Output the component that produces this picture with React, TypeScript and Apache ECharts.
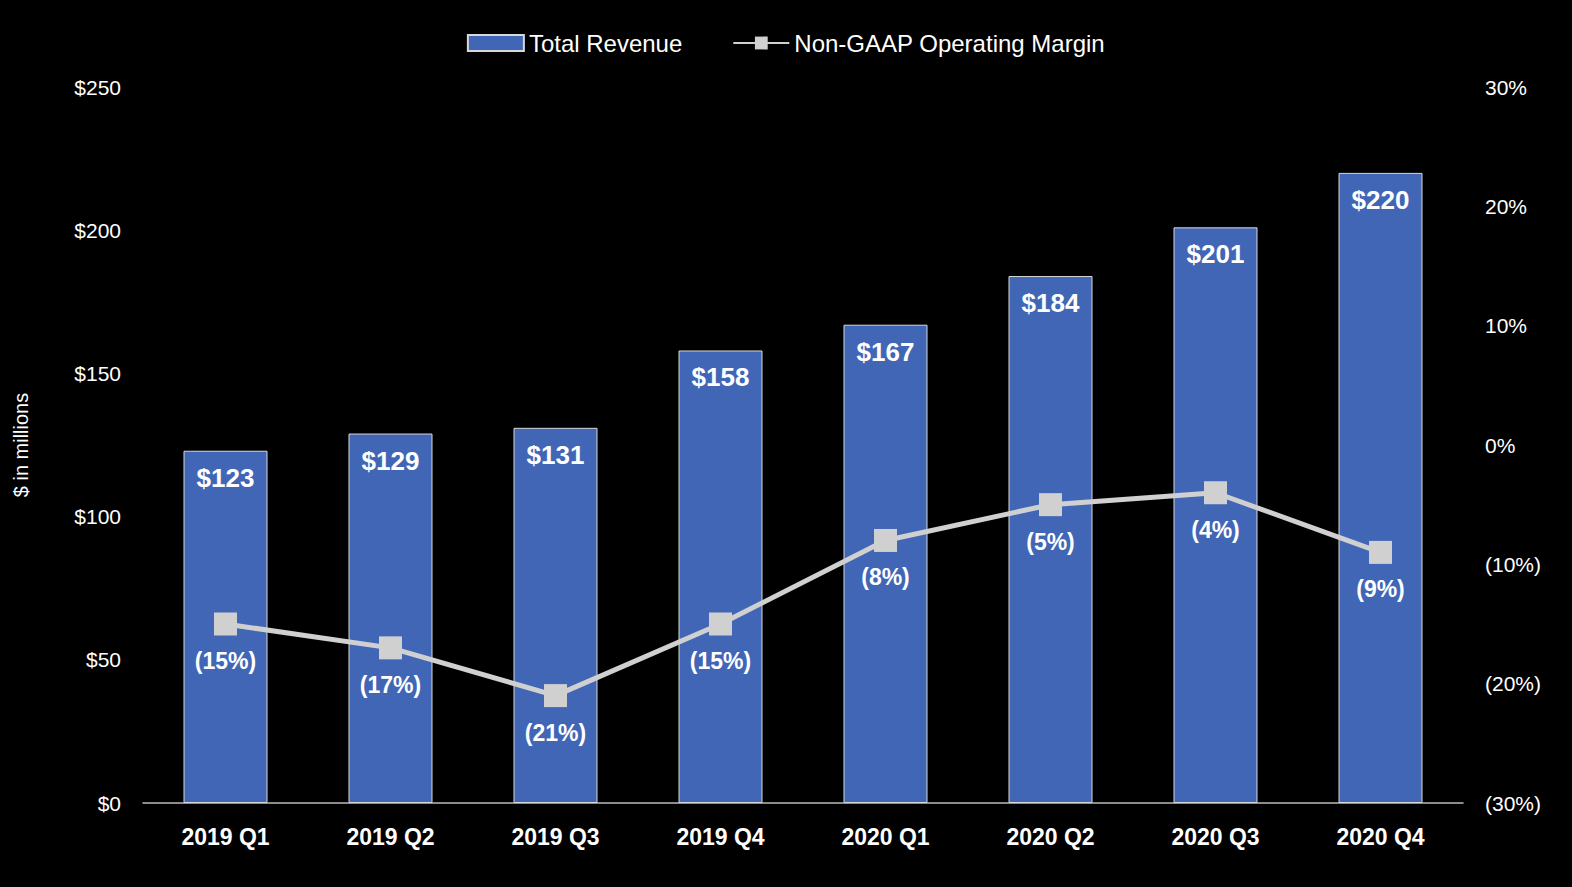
import React, { useEffect, useRef } from "react";
import * as echarts from "echarts";

const categories = ["2019 Q1", "2019 Q2", "2019 Q3", "2019 Q4", "2020 Q1", "2020 Q2", "2020 Q3", "2020 Q4"];
const revenue = [123, 129, 131, 158, 167, 184, 201, 220];
const margin = [-15, -17, -21, -15, -8, -5, -4, -9];

const pct = (v: number) => (v < 0 ? `(${-v}%)` : `${v}%`);

export default function App() {
  const ref = useRef<HTMLDivElement>(null);
  useEffect(() => {
    document.body.style.margin = "0";
    document.body.style.background = "#000";
    const chart = echarts.init(ref.current!, null, { renderer: "svg" });
    const font = "Helvetica, Arial, 'Liberation Sans', sans-serif";
    chart.setOption({
      animation: false,
      backgroundColor: "#000",
      textStyle: { fontFamily: font },
      legend: {
        top: 26,
        left: "center",
        itemGap: 50,
        itemWidth: 56,
        itemHeight: 16,
        textStyle: { color: "#fff", fontSize: 24, fontFamily: font },
        data: [
          { name: "Total Revenue", icon: "rect" },
          { name: "Non-GAAP Operating Margin" },
        ],
      },
      grid: { left: 143, right: 109, top: 87, bottom: 84 },
      xAxis: {
        type: "category",
        data: categories,
        axisLine: { lineStyle: { color: "#bbb", width: 1.5 } },
        axisTick: { show: false },
        axisLabel: { color: "#fff", fontSize: 23, fontWeight: "bold", margin: 22 },
      },
      yAxis: [
        {
          type: "value",
          min: 0,
          max: 250,
          interval: 50,
          name: "$ in millions",
          nameLocation: "middle",
          nameGap: 112,
          nameTextStyle: { color: "#fff", fontSize: 20 },
          splitLine: { show: false },
          axisLine: { show: false },
          axisLabel: { color: "#fff", fontSize: 21, margin: 22, formatter: (v: number) => `$${v}` },
        },
        {
          type: "value",
          min: -30,
          max: 30,
          interval: 10,
          splitLine: { show: false },
          axisLine: { show: false },
          axisLabel: { color: "#fff", fontSize: 21, margin: 22, formatter: pct },
        },
      ],
      series: [
        {
          name: "Total Revenue",
          type: "bar",
          data: revenue,
          barWidth: 84,
          itemStyle: { color: "#4166B6", borderColor: "#d8d8d8", borderWidth: 1 },
          label: {
            show: true,
            position: "insideTop",
            distance: 14,
            color: "#fff",
            fontSize: 26,
            fontWeight: "bold",
            formatter: (p: any) => `$${p.value}`,
          },
        },
        {
          name: "Non-GAAP Operating Margin",
          type: "line",
          yAxisIndex: 1,
          data: margin,
          symbol: "rect",
          symbolSize: 23,
          lineStyle: { color: "#d0d0d0", width: 5 },
          itemStyle: { color: "#d0d0d0" },
          label: {
            show: true,
            position: "bottom",
            distance: 14,
            color: "#fff",
            fontSize: 23,
            fontWeight: "bold",
            formatter: (p: any) => pct(p.value),
          },
        },
      ],
    });
    return () => chart.dispose();
  }, []);
  return <div ref={ref} style={{ width: 1572, height: 887 }} />;
}
